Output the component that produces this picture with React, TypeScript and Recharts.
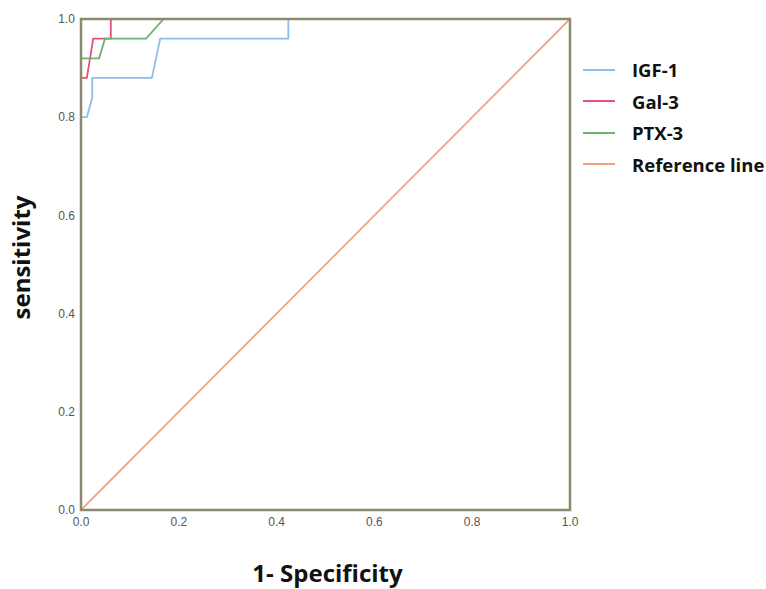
import React from 'react';
import { LineChart, Line, XAxis, YAxis, ReferenceArea, Legend } from 'recharts';

// ROC curve points (x = 1 - specificity, y = sensitivity)
const igf1X = [0, 0.012, 0.023, 0.023, 0.145, 0.162, 0.424, 0.424, 1];
const igf1Y = [0.8, 0.8, 0.84, 0.88, 0.88, 0.96, 0.96, 1, 1];

const gal3X = [0, 0.012, 0.025, 0.061, 0.061, 1];
const gal3Y = [0.88, 0.88, 0.96, 0.96, 1, 1];

const ptx3X = [0, 0.037, 0.049, 0.133, 0.169, 1];
const ptx3Y = [0.92, 0.92, 0.96, 0.96, 1, 1];

const refX = [0, 1];
const refY = [0, 1];

const ticks = [0, 0.2, 0.4, 0.6, 0.8, 1];

const zip = (xs: number[], ys: number[]) => xs.map((x, i) => ({ x, y: ys[i] }));

const series = [
  { name: 'IGF-1', color: '#8FBDEA', data: zip(igf1X, igf1Y) },
  { name: 'Gal-3', color: '#E5537C', data: zip(gal3X, gal3Y) },
  { name: 'PTX-3', color: '#6CB36C', data: zip(ptx3X, ptx3Y) },
  { name: 'Reference line', color: '#F5A184', data: zip(refX, refY) },
];

const font = '"Open Sans", "Noto Sans", sans-serif';
const tickStyle = { fill: '#555', fontSize: 12, fontFamily: 'Liberation Sans, Arial, sans-serif' };

const YTitle = ({ viewBox }: any) => {
  const cx = viewBox.x + 20;
  const cy = viewBox.y + viewBox.height / 2 - 7;
  return (
    <text
      x={cx}
      y={cy}
      transform={`rotate(-90 ${cx} ${cy})`}
      textAnchor="middle"
      dominantBaseline="central"
      fontFamily={font}
      fontWeight="bold"
      fontSize={24}
      fill="#111"
    >
      sensitivity
    </text>
  );
};

const XTitle = ({ viewBox }: any) => (
  <text
    x={viewBox.x + viewBox.width / 2 + 2}
    y={viewBox.y + 62}
    textAnchor="middle"
    dominantBaseline="central"
    fontFamily={font}
    fontWeight="bold"
    fontSize={24}
    fill="#111"
  >
    1- Specificity
  </text>
);

const LegendBox = () => (
  <div style={{ fontFamily: font }}>
    {series.map((s) => (
      <div key={s.name} style={{ display: 'flex', alignItems: 'center', height: 31.5 }}>
        <div style={{ width: 32, height: 2, background: s.color, marginRight: 17 }} />
        <span style={{ fontWeight: 'bold', fontSize: 18.5, color: '#111', whiteSpace: 'nowrap' }}>{s.name}</span>
      </div>
    ))}
  </div>
);

const App: React.FC = () => {
  return (
    <div style={{ position: 'absolute', left: 0, top: 0 }}>
      <LineChart width={766} height={589} margin={{ top: 19, right: 196, bottom: 0, left: 0 }}>
        <XAxis
          type="number"
          dataKey="x"
          domain={[0, 1]}
          ticks={ticks}
          tickFormatter={(v: number) => v.toFixed(1)}
          tick={tickStyle}
          tickSize={0}
          tickMargin={7}
          axisLine={false}
          height={79}
          label={<XTitle />}
        />
        <YAxis
          type="number"
          dataKey="y"
          domain={[0, 1]}
          ticks={ticks}
          tickFormatter={(v: number) => v.toFixed(1)}
          tick={tickStyle}
          tickSize={0}
          tickMargin={6}
          axisLine={false}
          width={81}
          label={<YTitle />}
        />
        {series.map((s) => (
          <Line
            key={s.name}
            data={s.data}
            dataKey="y"
            name={s.name}
            type="linear"
            stroke={s.color}
            strokeWidth={1.8}
            dot={false}
            activeDot={false}
            isAnimationActive={false}
          />
        ))}
        <ReferenceArea
          x1={0}
          x2={1}
          y1={0}
          y2={1}
          fill="none"
          stroke="#8A8A6E"
          strokeWidth={2.5}
          {...({ zIndex: 1000 } as any)}
        />
        <Legend
          layout="horizontal"
          verticalAlign="middle"
          align="center"
          content={<LegendBox />}
          wrapperStyle={{ position: 'absolute', left: 583, top: 54, width: 183 }}
        />
      </LineChart>
    </div>
  );
};

export default App;
